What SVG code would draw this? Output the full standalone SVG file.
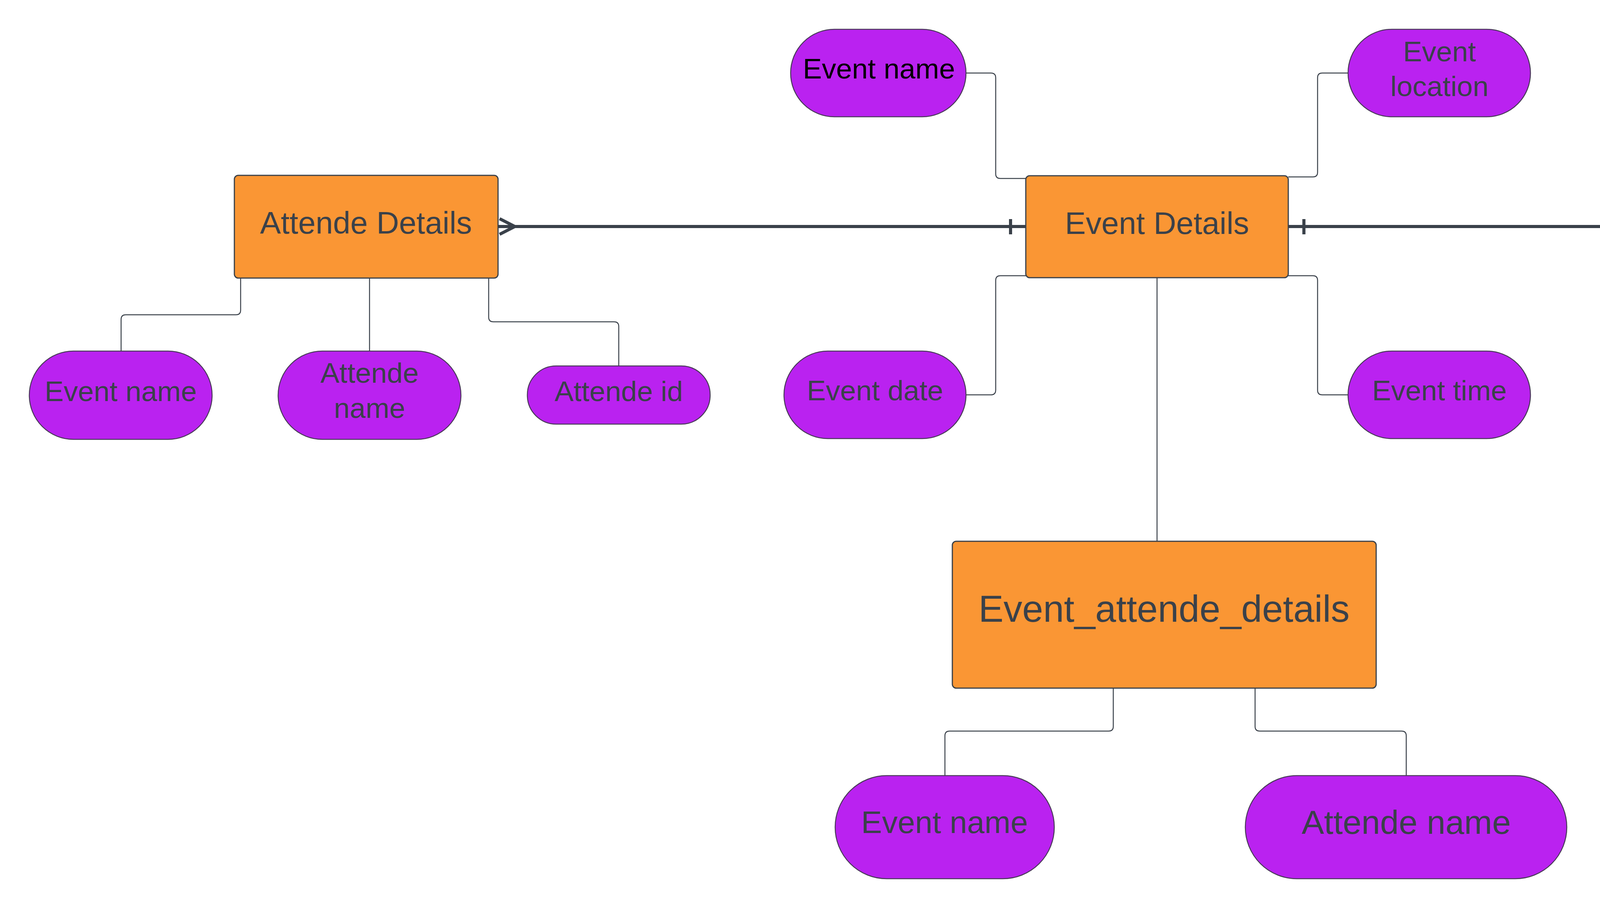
<svg xmlns="http://www.w3.org/2000/svg" width="6281" height="2325" viewBox="0 0 6281 2325">
<style>
.ent{fill:#FA9634;stroke:#3A414A;stroke-width:3}
.att{fill:#BA22F0;stroke:#4A3A5A;stroke-width:2.5}
.t{font-family:"Liberation Sans",Arial,sans-serif;fill:#3A414A;text-anchor:middle}
.te{font-size:80px}
.ta{font-size:73px}
.thin{fill:none;stroke:#3A414A;stroke-width:2.5}
.thick{fill:none;stroke:#3A414A;stroke-width:8}
</style>
<rect width="6281" height="2325" fill="#FFFFFF"/>
<g id="connectors">
<path class="thin" d="M616,712 V794 Q616,806 604,806 H322 Q310,806 310,818 V899"/>
<path class="thin" d="M946,712 V899"/>
<path class="thin" d="M1251,712 V812 Q1251,824 1263,824 H1572 Q1584,824 1584,836 V937"/>
<path class="thin" d="M2473,187 H2537 Q2549,187 2549,199 V445 Q2549,457 2561,457 H2626"/>
<path class="thin" d="M3298,453 H3361 Q3373,453 3373,441 V199 Q3373,187 3385,187 H3451"/>
<path class="thin" d="M2473,1011 H2537 Q2549,1011 2549,999 V718 Q2549,706 2561,706 H2626"/>
<path class="thin" d="M3298,706 H3361 Q3373,706 3373,718 V999 Q3373,1011 3385,1011 H3451"/>
<path class="thin" d="M2962,711 V1386"/>
<path class="thin" d="M2850,1762 V1860 Q2850,1872 2838,1872 H2431 Q2419,1872 2419,1884 V1986"/>
<path class="thin" d="M3213,1762 V1860 Q3213,1872 3225,1872 H3588 Q3600,1872 3600,1884 V1986"/>
<path class="thin" d="M5130,712 V794 Q5130,806 5118,806 H4896 Q4884,806 4884,818 V899"/>
<path class="thin" d="M5738,712 V794 Q5738,806 5750,806 H5960 Q5972,806 5972,818 V899"/>
<path class="thick" d="M1276,580 H2626"/>
<path class="thick" d="M1279,560 L1318,580 L1279,600"/>
<path class="thick" d="M2587,561 V600"/>
<path class="thick" d="M3298,580 H5100"/>
<path class="thick" d="M3338,561 V600"/>
<path class="thick" d="M5098,560 L5058,580 L5098,600"/>
</g>
<g id="attende-details">
<rect class="ent" x="600" y="449" width="675" height="263" rx="10"/>
<text class="t te" x="937" y="598">Attende Details</text>
</g>
<g id="event-details">
<rect class="ent" x="2626" y="450" width="672" height="261" rx="10"/>
<text class="t te" x="2962" y="599">Event Details</text>
</g>
<g id="event-task-details">
<rect class="ent" x="5100" y="449" width="674" height="263" rx="10"/>
<text class="t te" x="5437" y="545">Event task</text>
<text class="t te" x="5437" y="644">Details</text>
</g>
<g id="event-attende-details">
<rect class="ent" x="2438" y="1386" width="1085" height="376" rx="10"/>
<text class="t" style="font-size:96px" x="2980" y="1592">Event_attende_details</text>
</g>
<g id="attr-attende-event-name">
<rect class="att" x="75" y="899" width="468" height="226" rx="113"/>
<text class="t ta" x="309" y="1027">Event name</text>
</g>
<g id="attr-attende-name">
<rect class="att" x="712" y="899" width="468" height="226" rx="113"/>
<text class="t ta" x="946" y="980">Attende</text>
<text class="t ta" x="946" y="1070">name</text>
</g>
<g id="attr-attende-id">
<rect class="att" x="1350" y="937" width="468" height="149" rx="74"/>
<text class="t ta" x="1584" y="1027">Attende id</text>
</g>
<g id="attr-event-name">
<rect class="att" x="2024" y="75" width="449" height="224" rx="112"/>
<text class="t ta" style="fill:#000000" x="2250" y="201">Event name</text>
</g>
<g id="attr-event-location">
<rect class="att" x="3451" y="75" width="467" height="224" rx="112"/>
<text class="t ta" x="3685" y="157">Event</text>
<text class="t ta" x="3685" y="246">location</text>
</g>
<g id="attr-event-date">
<rect class="att" x="2007" y="899" width="466" height="224" rx="112"/>
<text class="t ta" x="2240" y="1025">Event date</text>
</g>
<g id="attr-event-time">
<rect class="att" x="3451" y="899" width="467" height="224" rx="112"/>
<text class="t ta" x="3685" y="1025">Event time</text>
</g>
<g id="attr-task-name">
<rect class="att" x="4650" y="899" width="468" height="226" rx="113"/>
<text class="t ta" x="4884" y="1027">Task name</text>
</g>
<g id="attr-task-id">
<rect class="att" x="5203" y="899" width="450" height="226" rx="113"/>
<text class="t ta" x="5428" y="1027">Task id</text>
</g>
<g id="attr-task-event-name">
<rect class="att" x="5738" y="899" width="468" height="226" rx="113"/>
<text class="t ta" x="5972" y="1027">Event name</text>
</g>
<g id="attr-ead-event-name">
<rect class="att" x="2138" y="1986" width="561" height="264" rx="132"/>
<text class="t" style="font-size:80px" x="2418" y="2133">Event name</text>
</g>
<g id="attr-ead-attende-name">
<rect class="att" x="3188" y="1986" width="823" height="264" rx="132"/>
<text class="t" style="font-size:86px" x="3600" y="2135">Attende name</text>
</g>
</svg>
